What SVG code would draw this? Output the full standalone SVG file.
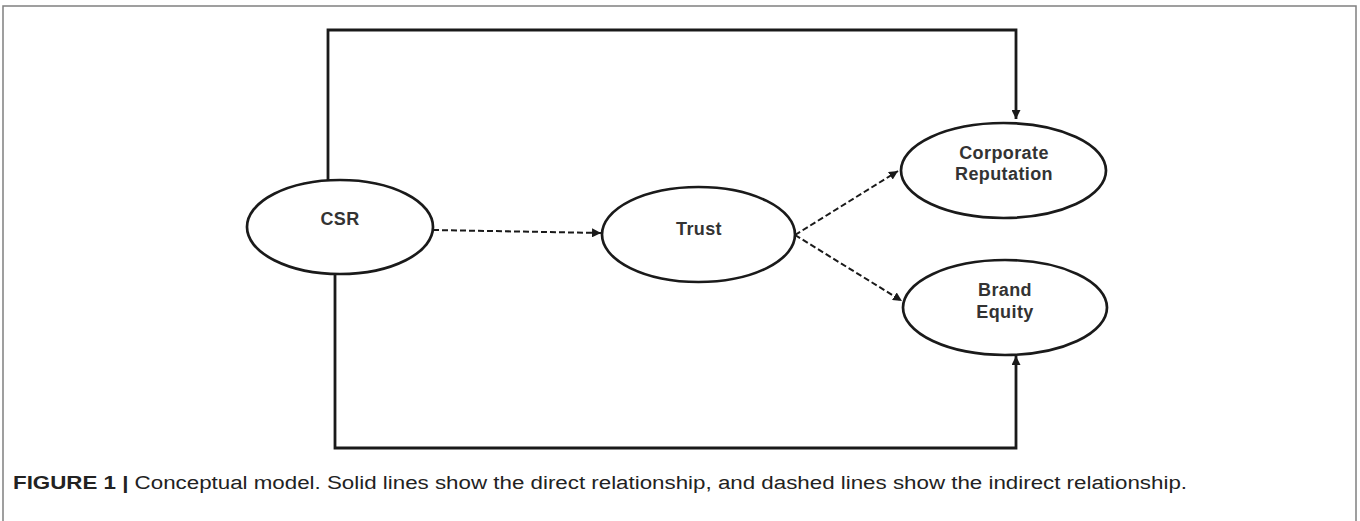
<svg xmlns="http://www.w3.org/2000/svg" width="1360" height="521" viewBox="0 0 1360 521">
<defs>
<marker id="ah" viewBox="0 0 10 10" refX="10" refY="5" markerWidth="9" markerHeight="9" markerUnits="userSpaceOnUse" orient="auto">
<path d="M0,0 L10,5 L0,10 Z" fill="#1a1a1a"/>
</marker>
<style>
.node{fill:#fff;stroke:#1a1a1a;stroke-width:2.7}
.lbl{font-family:"Liberation Sans",Arial,sans-serif;font-weight:bold;font-size:18px;letter-spacing:0.4px;fill:#333;text-anchor:middle}
.solid{fill:none;stroke:#1a1a1a;stroke-width:2.8}
.dash{fill:none;stroke:#1a1a1a;stroke-width:2;stroke-dasharray:6 3}
.cap{font-family:"Liberation Sans",Arial,sans-serif;font-size:18px;fill:#222}
</style>
</defs>
<rect width="1360" height="521" fill="#fff"/>
<path d="M3,521 V6 H1356 V521" fill="none" stroke="#808080" stroke-width="1.5"/>
<g id="connectors">
<path class="solid" d="M328,180 V30 H1016 V119" marker-end="url(#ah)"/>
<path class="solid" d="M335,274 V448 H1016 V356" marker-end="url(#ah)"/>
<path class="dash" d="M433,230 L601,233" marker-end="url(#ah)"/>
<path class="dash" d="M795,235 L898,171" marker-end="url(#ah)"/>
<path class="dash" d="M795,235 L902,301" marker-end="url(#ah)"/>
</g>
<g id="csr">
<ellipse class="node" cx="340" cy="227" rx="93" ry="47"/>
<text class="lbl" x="340" y="225">CSR</text>
</g>
<g id="trust">
<ellipse class="node" cx="698.5" cy="234.5" rx="96.5" ry="47.5"/>
<text class="lbl" x="699" y="235">Trust</text>
</g>
<g id="corporate-reputation">
<ellipse class="node" cx="1003.5" cy="170.5" rx="102.5" ry="47.5"/>
<text class="lbl" x="1004" y="159">Corporate</text>
<text class="lbl" x="1004" y="180">Reputation</text>
</g>
<g id="brand-equity">
<ellipse class="node" cx="1005" cy="307.5" rx="102" ry="47.5"/>
<text class="lbl" x="1005" y="296">Brand</text>
<text class="lbl" x="1005" y="318">Equity</text>
</g>
<text class="cap" x="13" y="489" textLength="1174" lengthAdjust="spacingAndGlyphs"><tspan font-weight="bold">FIGURE 1 |</tspan> Conceptual model. Solid lines show the direct relationship, and dashed lines show the indirect relationship.</text>
</svg>
